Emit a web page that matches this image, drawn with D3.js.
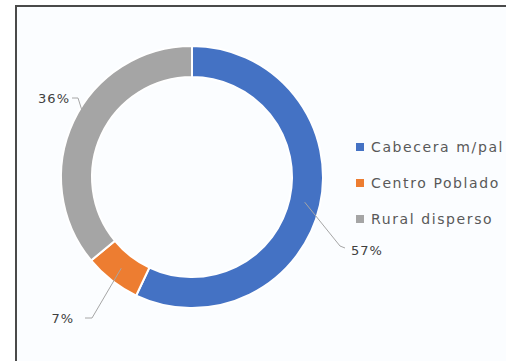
<!DOCTYPE html>
<html><head><meta charset="utf-8">
<script src="https://cdn.jsdelivr.net/npm/d3@7"></script>
<style>html,body{margin:0;padding:0;background:#fff;}svg{display:block;}</style>
</head><body>
<svg id="c" width="506" height="361"></svg>
<script>
const categories = ["Cabecera m/pal", "Centro Poblado", "Rural disperso"];
const values = [57, 7, 36];
const labels = ["57%", "7%", "36%"];
const colors = ["#4472C4", "#ED7D31", "#A5A5A5"];

const svg = d3.select("#c");
// frame
svg.append("rect").attr("x", 16).attr("y", 6).attr("width", 520).attr("height", 380)
  .attr("fill", "#fbfdff").attr("stroke", "#4a4a4a").attr("stroke-width", 2);

const cx = 192, cy = 177, rOuter = 131, rInner = 100;
const g = svg.append("g").attr("transform", `translate(${cx},${cy})`);
const pie = d3.pie().sort(null).value(d => d)(values);
const arc = d3.arc().innerRadius(rInner).outerRadius(rOuter);
g.selectAll("path.slice").data(pie).enter().append("path")
  .attr("class", "slice")
  .attr("d", arc)
  .attr("fill", (d, i) => colors[i])
  .attr("stroke", "#fff").attr("stroke-width", 2);

// leader lines and labels
const mid = d => (d.startAngle + d.endAngle) / 2;
const labelPos = [
  {pt: [153, 71], tx: 351, ty: 250, anchor: "start", elbow: [148, 69]},
  {pt: [-107, 141], tx: 74, ty: 318, anchor: "end", elbow: [-100, 141]},
  {pt: [-120, -79], tx: 70, ty: 98, anchor: "end", elbow: [-114, -79]}
];
const rMid = (rInner + rOuter) / 2;
pie.forEach((d, i) => {
  const a = mid(d);
  const sx = Math.sin(a) * rMid, sy = -Math.cos(a) * rMid;
  const lp = labelPos[i];
  g.append("polyline")
    .attr("points", [[sx, sy], lp.elbow, lp.pt].map(p => p.join(",")).join(" "))
    .attr("fill", "none").attr("stroke", "#a6a6a6").attr("stroke-width", 1);
  svg.append("text").attr("x", lp.tx).attr("y", lp.ty).attr("dy", "0.35em")
    .attr("text-anchor", lp.anchor)
    .attr("font-family", "DejaVu Sans").attr("font-size", 13).attr("letter-spacing", 1)
    .attr("fill", "#404040")
    .text(labels[i]);
});

// legend
const lg = svg.append("g");
categories.forEach((c, i) => {
  const y = 147 + i * 36;
  lg.append("rect").attr("x", 356).attr("y", y - 4).attr("width", 8).attr("height", 8).attr("fill", colors[i]);
  lg.append("text").attr("x", 371).attr("y", y).attr("dy", "0.35em")
    .attr("font-family", "DejaVu Sans").attr("font-size", 14).attr("letter-spacing", 1.6)
    .attr("fill", "#595959")
    .text(c);
});
</script>
</body></html>
